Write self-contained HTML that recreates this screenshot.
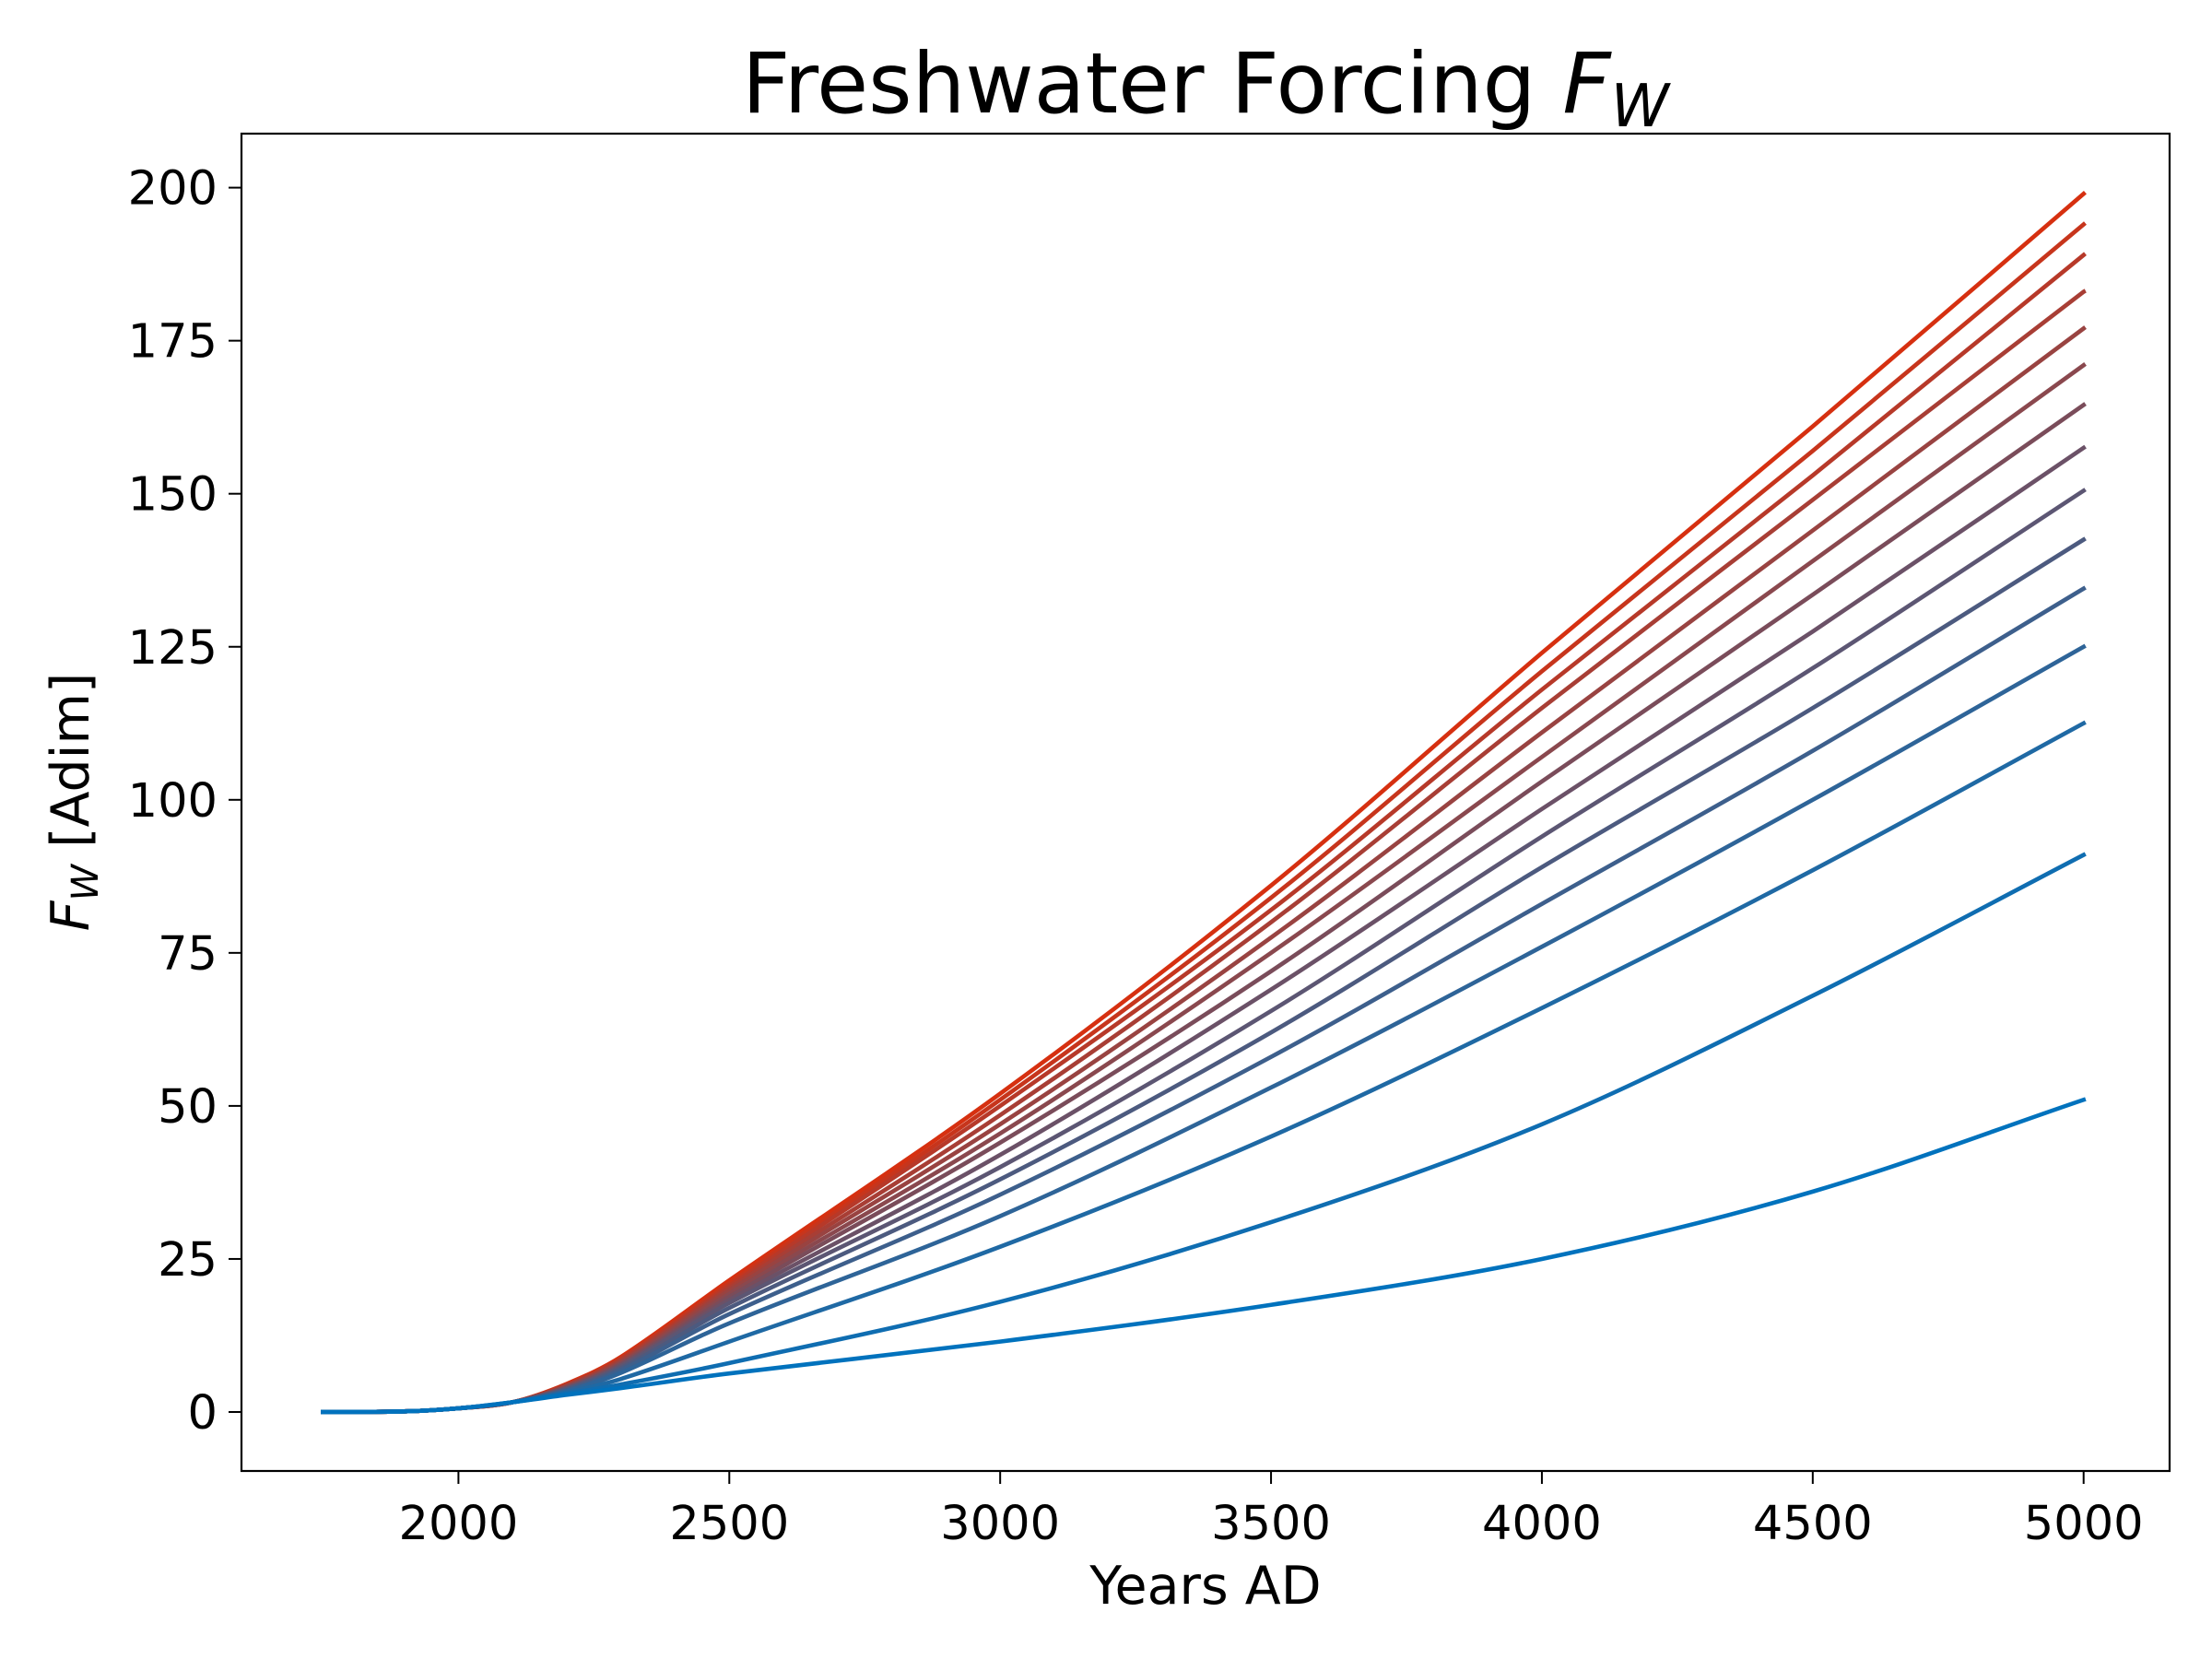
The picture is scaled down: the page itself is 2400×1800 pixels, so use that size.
<!DOCTYPE html>
<html><head><meta charset="utf-8"><style>
html,body{margin:0;padding:0;background:#fff;}
svg{display:block;font-family:"DejaVu Sans","Liberation Sans",sans-serif;}
</style></head><body>
<svg id="chart" width="2400" height="1800" viewBox="0 0 2400 1800">
<rect x="0" y="0" width="2400" height="1800" fill="#fff"/>
<text x="1308" y="122" font-size="91" text-anchor="middle">Freshwater Forcing <tspan font-style="italic">F</tspan><tspan font-style="italic" font-size="64" dy="15">W</tspan></text>
<g id="plot"></g>
<rect x="262" y="145" width="2092" height="1451" fill="none" stroke="#000" stroke-width="2.2"/>
<g id="xticks"></g><g id="yticks"></g>
<text x="1308" y="1740" font-size="57" text-anchor="middle">Years AD</text>
<text transform="translate(96,870) rotate(-90)" font-size="57" text-anchor="middle"><tspan font-style="italic">F</tspan><tspan font-style="italic" font-size="40" dy="10">W</tspan><tspan dy="-10"> [Adim]</tspan></text>
</svg>
<script>
const years=[1750,1900,2000,2100,2200,2300,2500,3000,3500,4000,4500,5000];
const v2200=[4.6,4.5,4.4,4.3,4.2,4.1,4,3.9,3.8,3.7,3.5,3.4,3.2,3,2.8];
const v2300=[9,8.8,8.6,8.4,8.2,8,7.8,7.6,7.4,7.1,6.8,6.4,5.4,4.5,3.9];
const v2500=[21.5,21,20.6,20.2,19.8,19.3,18.8,18.3,17.8,17,16,14.5,11.5,8,6.3];
const v3000=[52,51,50,48.5,47,45.5,44,42,40,38,35.5,32,27,18,11.5];
const v3500=[86,84,82,80,77.5,75,72,69,65.5,62,58,53,45,31,17.5];
const v4000=[124,121,118,115,111,107,103,98.5,94,89,83,76,66,47,25];
const v4500=[161,157,153,149,144,139,133.5,127.5,121.5,115,108,100,88.5,68,36];
const v5000=[199,194,189,183,177,171,164.5,157.5,150.5,142.5,134.5,125,112.5,91,51];
const xTicks=[2000,2500,3000,3500,4000,4500,5000];
const yTicks=[0,25,50,75,100,125,150,175,200];
const X=v=>497.4+(v-2000)*0.58777;
const Y=v=>1532-v*6.642;
const NS="http://www.w3.org/2000/svg";
const plot=document.getElementById('plot');
const n=v5000.length;
for(let i=0;i<n;i++){
  const vals=[0,0.1,0.6,1.6,v2200[i],v2300[i],v2500[i],v3000[i],v3500[i],v4000[i],v4500[i],v5000[i]];
  const pts=years.map((y,k)=>[X(y),Y(vals[k])]);
  let d='M'+pts[0][0]+','+pts[0][1];
  for(let k=0;k<pts.length-1;k++){
    const p0=pts[Math.max(0,k-1)],p1=pts[k],p2=pts[k+1],p3=pts[Math.min(pts.length-1,k+2)];
    const h=p2[0]-p1[0];
    const s1=(p2[1]-p0[1])/(p2[0]-p0[0]||1), s2=(p3[1]-p1[1])/(p3[0]-p1[0]||1);
    const c1=[p1[0]+h/3,p1[1]+s1*h/3];
    const c2=[p2[0]-h/3,p2[1]-s2*h/3];
    d+=` C${c1[0]},${c1[1]} ${c2[0]},${c2[1]} ${p2[0]},${p2[1]}`;
  }
  const t=i/(n-1);
  const r=Math.round(214*(1-t)+0*t),g=Math.round(48*(1-t)+114*t),b=Math.round(16*(1-t)+189*t);
  const p=document.createElementNS(NS,'path');
  p.setAttribute('d',d);p.setAttribute('fill','none');
  p.setAttribute('stroke',`rgb(${r},${g},${b})`);p.setAttribute('stroke-width','4.6');
  p.setAttribute('stroke-linecap','square');
  
  
  plot.appendChild(p);
}
const xt=document.getElementById('xticks');
xTicks.forEach(v=>{
  const l=document.createElementNS(NS,'line');
  l.setAttribute('x1',X(v));l.setAttribute('x2',X(v));l.setAttribute('y1',1596);l.setAttribute('y2',1610);
  l.setAttribute('stroke','#000');l.setAttribute('stroke-width','2');
  
  
  xt.appendChild(l);
  const t=document.createElementNS(NS,'text');
  t.setAttribute('x',X(v));t.setAttribute('y',1670);t.setAttribute('font-size','51');t.setAttribute('text-anchor','middle');
  t.textContent=v;
  
  
  xt.appendChild(t);
});
const yt=document.getElementById('yticks');
yTicks.forEach(v=>{
  const l=document.createElementNS(NS,'line');
  l.setAttribute('x1',248);l.setAttribute('x2',262);l.setAttribute('y1',Y(v));l.setAttribute('y2',Y(v));
  l.setAttribute('stroke','#000');l.setAttribute('stroke-width','2');
  
  
  yt.appendChild(l);
  const t=document.createElementNS(NS,'text');
  t.setAttribute('x',236);t.setAttribute('y',Y(v)+18);t.setAttribute('font-size','51');t.setAttribute('text-anchor','end');
  t.textContent=v;
  
  
  yt.appendChild(t);
});
</script>
</body></html>
